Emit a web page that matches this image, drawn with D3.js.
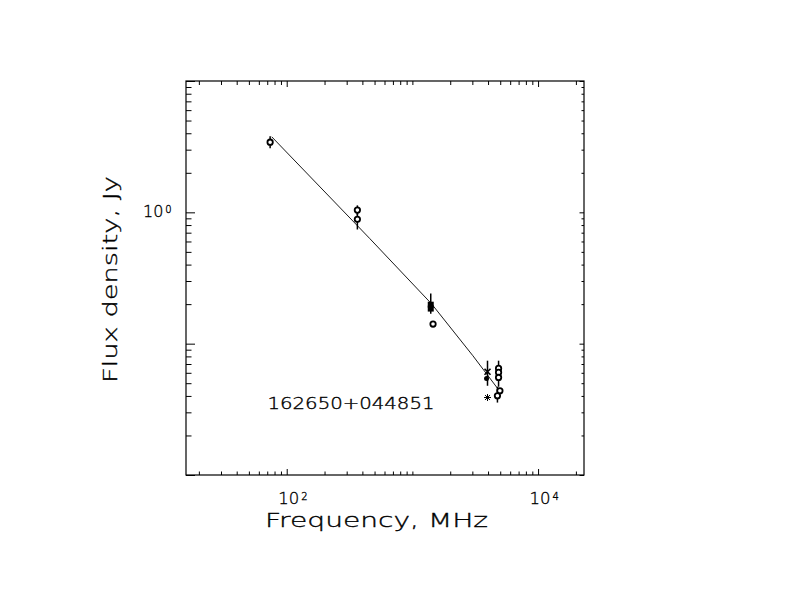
<!DOCTYPE html>
<html>
<head>
<meta charset="utf-8">
<script src="https://cdn.jsdelivr.net/npm/d3@7"></script>
<style>
  body { margin: 0; background: #fff; }
  text { font-family: "DejaVu Sans", sans-serif; font-weight: 200; fill: #000; stroke: #000; stroke-width: 0.35px; }
</style>
</head>
<body>
<svg id="chart" width="792" height="612"></svg>
<script>
// measured points: frequency (MHz), flux density (Jy), error bar ends, symbol
const freq   = [73.8, 365, 365, 1400, 1400, 1460, 3960, 3890, 3960, 4850, 4850, 4850, 4970, 4750];
const flux   = [3.42, 1.04, 0.885, 0.198, 0.185, 0.141, 0.0611, 0.0543, 0.0389, 0.0648, 0.0604, 0.0553, 0.0438, 0.0401];
const fluxLo = [3.08, 0.95, 0.74, 0.169, null, null, 0.0478, null, null, 0.0560, null, 0.047, null, 0.0356];
const fluxHi = [3.80, 1.13, 0.99, 0.241, null, null, 0.0742, null, null, 0.0742, null, 0.0600, null, 0.047];
const symbol = ["circle", "circle", "circle", "square", "square", "circle", "cross", "dot", "star",
                "circle", "circle", "circle", "circle", "circle"];

// fitted spectrum
const fitFreq = [76.0, 459, 1421, 3027, 4808];
const fitFlux = [3.76, 0.630, 0.201, 0.0810, 0.0451];

const xMajor = [100, 10000];
const yMajor = [0.01, 0.1, 1, 10];
const xLabels = [{v: 100, exp: "2"}, {v: 10000, exp: "4"}];
const yLabels = [{v: 1, exp: "0"}];
const sourceName = "162650+044851";

const svg = d3.select("#chart");
const pLeft = 186, pRight = 584, pTop = 81, pBottom = 475;

const x = d3.scaleLog().domain([15.8, 23200]).range([pLeft, pRight]);
const y = d3.scaleLog().domain([0.01, 10]).range([pBottom, pTop]);

// minor ticks: 2..9 times each decade inside the domain
function minors(scale) {
  const [a, b] = scale.domain();
  const out = [];
  for (let e = Math.floor(Math.log10(a)); e <= Math.ceil(Math.log10(b)); e++) {
    for (let m = 1; m < 10; m++) {
      const v = m * Math.pow(10, e);
      if (v > a && v < b) out.push(v);
    }
  }
  return out;
}
const xMinor = minors(x).filter(v => !xMajor.includes(v));
const yMinor = minors(y).filter(v => !yMajor.includes(v));

function tickAxis(axis, vals, len) {
  return axis.tickValues(vals).tickSize(len).tickFormat("");
}

function addAxis(tr, axis) {
  const g = svg.append("g").attr("transform", tr).call(axis);
  g.select(".domain").remove();
  g.selectAll("line").attr("stroke", "#000").attr("stroke-width", 1);
}

// bottom / top
addAxis(`translate(0,${pBottom})`, tickAxis(d3.axisBottom(x), xMinor, -3.5));
addAxis(`translate(0,${pBottom})`, tickAxis(d3.axisBottom(x), xMajor, -6));
addAxis(`translate(0,${pTop})`, tickAxis(d3.axisTop(x), xMinor, -4));
addAxis(`translate(0,${pTop})`, tickAxis(d3.axisTop(x), xMajor, -6));
// left / right
addAxis(`translate(${pLeft},0)`, tickAxis(d3.axisLeft(y), yMinor, -5.5));
addAxis(`translate(${pLeft},0)`, tickAxis(d3.axisLeft(y), yMajor, -9));
addAxis(`translate(${pRight},0)`, tickAxis(d3.axisRight(y), yMinor, -2.5));
addAxis(`translate(${pRight},0)`, tickAxis(d3.axisRight(y), yMajor, -4.5));

svg.append("rect")
    .attr("x", pLeft).attr("y", pTop)
    .attr("width", pRight - pLeft).attr("height", pBottom - pTop)
    .attr("fill", "none").attr("stroke", "#000").attr("stroke-width", 1.2);

// tick labels with superscript exponents
xLabels.forEach(d => {
  const t = svg.append("text")
      .attr("x", x(d.v) - 8.5).attr("y", 504)
      .style("font-size", "16.5px");
  t.append("tspan").text("10");
  t.append("tspan").attr("dx", 2).attr("dy", -4).style("font-size", "10px").text(d.exp);
});
yLabels.forEach(d => {
  const t = svg.append("text")
      .attr("x", pLeft - 43).attr("y", y(d.v) + 5)
      .style("font-size", "16px");
  t.append("tspan").text("10");
  t.append("tspan").attr("dx", 2).attr("dy", -4).style("font-size", "10px").text(d.exp);
});

// axis titles
svg.append("text")
    .attr("x", 265).attr("y", 527)
    .attr("textLength", 223).attr("lengthAdjust", "spacingAndGlyphs")
    .style("font-size", "20px")
    .text("Frequency, MHz");

svg.append("text")
    .attr("transform", "translate(117,383) rotate(-90)")
    .attr("textLength", 207).attr("lengthAdjust", "spacingAndGlyphs")
    .style("font-size", "20px")
    .text("Flux density, Jy");

svg.append("text")
    .attr("x", 267.5).attr("y", 408.5)
    .attr("textLength", 167).attr("lengthAdjust", "spacingAndGlyphs")
    .style("font-size", "15px")
    .text(sourceName);

// fit line
const fit = fitFreq.map((f, i) => [f, fitFlux[i]]);
svg.append("path")
    .datum(fit)
    .attr("fill", "none").attr("stroke", "#000").attr("stroke-width", 0.9)
    .attr("d", d3.line().x(d => x(d[0])).y(d => y(d[1])));

const pts = freq.map((f, i) => ({f, s: flux[i], lo: fluxLo[i], hi: fluxHi[i], sym: symbol[i]}));

// error bars
svg.append("g").selectAll("line")
  .data(pts.filter(d => d.lo != null))
  .join("line")
    .attr("x1", d => x(d.f)).attr("x2", d => x(d.f))
    .attr("y1", d => y(d.lo)).attr("y2", d => y(d.hi))
    .attr("stroke", "#000").attr("stroke-width", 1.5);

// symbols
const g = svg.append("g");
pts.forEach(d => {
  const cx = x(d.f), cy = y(d.s);
  if (d.sym === "circle") {
    g.append("circle").attr("cx", cx).attr("cy", cy).attr("r", 2.7)
      .attr("fill", "#fff").attr("stroke", "#000").attr("stroke-width", 1.8);
  } else if (d.sym === "square") {
    g.append("rect").attr("x", cx - 3).attr("y", cy - 3).attr("width", 6).attr("height", 6)
      .attr("fill", "#000");
  } else if (d.sym === "dot") {
    g.append("circle").attr("cx", cx).attr("cy", cy).attr("r", 2.5).attr("fill", "#000");
  } else if (d.sym === "cross") {
    g.append("path").attr("d", `M${cx-3},${cy-3}L${cx+3},${cy+3}M${cx-3},${cy+3}L${cx+3},${cy-3}`)
      .attr("stroke", "#000").attr("stroke-width", 1.6);
  } else if (d.sym === "star") {
    g.append("path").attr("d", `M${cx-3.5},${cy}L${cx+3.5},${cy}M${cx},${cy-3.5}L${cx},${cy+3.5}` +
        `M${cx-2.5},${cy-2.5}L${cx+2.5},${cy+2.5}M${cx-2.5},${cy+2.5}L${cx+2.5},${cy-2.5}`)
      .attr("stroke", "#000").attr("stroke-width", 1);
  }
});
</script>
</body>
</html>
